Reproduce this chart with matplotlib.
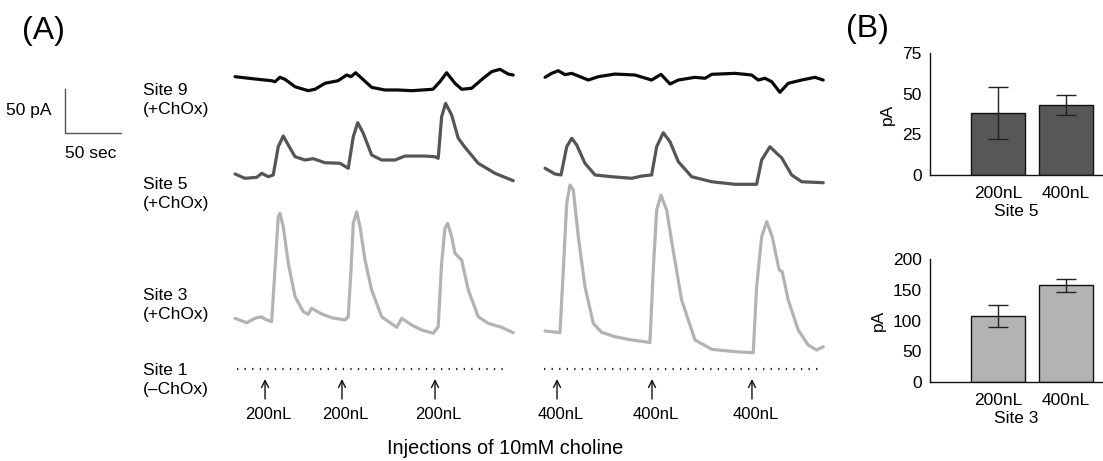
import matplotlib
matplotlib.use("Agg")
import matplotlib.pyplot as plt
import numpy as np

plt.rcParams['font.family'] = ['Liberation Sans', 'DejaVu Sans']

# ---------------- data: traces (time in s from segment start, current in pA) -------------
site9_left_t = [1.8, 19.3, 33.9, 36.8, 41.2, 45.6, 54.4, 66.0, 71.9, 80.7, 92.1, 99.7, 103.5, 107.6,
                112.9, 121.6, 133.3, 144.7, 156.7, 175.4, 181.5, 187.4, 194.7, 200.6, 209.3, 219.5,
                226.9, 234.2, 241.4, 245.8]
site9_left_i = [17.4, 14.8, 12.8, 11.7, 16.7, 14.4, 6.0, 1.5, 3.1, 9.9, 12.8, 19.3, 17.4, 21.9,
                15.6, 5.3, 2.3, 2.3, 1.5, 3.1, 11.7, 21.9, 9.9, 3.1, 4.2, 15.6,
                23.1, 25.8, 20.4, 19.3]
site9_right_t = [1.8, 7.6, 13.4, 19.3, 25.2, 31.0, 39.7, 48.5, 63.1, 80.7, 95.3, 103.5, 111.4, 118.7,
                 133.3, 142.1, 148.0, 168.4, 183.0, 188.8, 194.7, 200.6, 207.8, 215.1, 226.9, 238.5, 245.8]
site9_right_i = [16.7, 21.2, 24.2, 19.7, 21.2, 18.2, 13.6, 17.4, 20.4, 19.3, 13.6, 20.1, 9.1, 13.6,
                 16.7, 15.6, 20.1, 21.2, 19.3, 13.6, 15.6, 11.7, -0.3, 9.9, 13.6, 16.7, 13.6]

site5_left_t = [1.8, 10.5, 20.8, 25.2, 31.0, 35.3, 39.7, 44.1, 48.5, 54.4, 63.1, 70.4, 80.7, 93.8,
                101.1, 105.5, 109.4, 114.3, 121.6, 130.4, 142.1, 150.8, 168.4, 177.2, 180.0, 183.0,
                186.5, 191.8, 197.6, 203.5, 215.1, 229.8, 245.8]
site5_left_i = [12.5, 7.6, 8.7, 13.3, 9.4, 11.4, 43.6, 55.7, 45.4, 32.2, 28.4, 29.9, 25.3, 24.7,
                19.0, 54.9, 70.8, 58.7, 34.1, 28.4, 28.4, 32.9, 32.9, 32.1, 30.3, 77.6,
                92.8, 79.5, 53.1, 42.8, 24.7, 13.3, 4.9]
site5_right_t = [1.8, 10.5, 15.8, 20.8, 25.2, 29.6, 36.8, 45.6, 60.3, 77.8, 86.6, 95.3, 99.7, 105.5,
                 111.4, 118.7, 130.4, 148.0, 168.4, 187.4, 191.8, 199.1, 205.0, 209.3, 218.1, 226.9, 245.8]
site5_right_i = [19.0, 12.5, 11.4, 43.5, 53.1, 45.4, 24.7, 11.4, 9.4, 7.6, 10.2, 11.4, 43.5, 59.4,
                 49.2, 26.5, 9.4, 3.7, 0.8, 0.8, 28.4, 43.5, 36.0, 31.0, 11.4, 3.7, 2.6]

site3_left_t = [1.8, 12.0, 19.3, 24.6, 29.6, 33.9, 36.8, 39.7, 41.2, 44.1, 48.5, 54.4, 61.7, 66.0,
                69.0, 77.8, 86.6, 98.2, 101.1, 103.5, 105.5, 108.5, 111.4, 115.8, 121.6, 130.4,
                143.6, 148.0, 156.7, 165.5, 175.7, 180.0, 183.0, 185.9, 188.3, 191.8, 194.7, 200.6,
                206.4, 215.1, 223.9, 235.6, 245.8]
site3_left_i = [39.4, 34.4, 39.4, 41.2, 37.5, 35.6, 94.3, 154.8, 158.7, 143.5, 101.9, 64.0, 46.9, 44.0,
                50.8, 44.3, 40.1, 37.5, 41.2, 94.3, 147.3, 160.5, 143.5, 105.6, 71.6, 41.2,
                29.2, 39.4, 31.8, 26.1, 22.4, 29.9, 101.9, 141.7, 147.3, 132.1, 113.3, 105.6,
                71.6, 41.2, 33.7, 29.2, 23.1]
site3_right_t = [1.8, 14.9, 17.8, 20.8, 23.7, 26.6, 31.0, 36.8, 44.1, 51.5, 63.1, 77.8, 89.5, 93.8,
                 96.7, 99.7, 103.5, 108.5, 112.9, 121.6, 133.3, 148.0, 168.4, 184.4, 187.4, 191.8,
                 196.2, 201.1, 205.0, 207.2, 209.8, 215.1, 223.9, 232.6, 240.0, 245.8]
site3_right_i = [25.0, 23.1, 94.3, 170.1, 190.8, 185.2, 132.1, 75.3, 33.7, 23.5, 18.5, 14.8, 12.8, 11.7,
                 94.3, 162.4, 179.5, 162.4, 126.4, 60.2, 14.8, 4.2, 1.5, 0.3, 75.3, 132.1,
                 149.2, 132.1, 107.6, 94.3, 92.4, 60.2, 26.1, 9.1, 3.4, 7.2]

site1_left_t = [3.5, 240.0]
site1_right_t = [0.9, 243.0]
site1_i = [0.0, 0.0]

injection_left_t = [28.1, 95.6, 177.2]
injection_right_t = [12.3, 95.6, 183.3]
injection_left_labels = ["200nL", "200nL", "200nL"]
injection_right_labels = ["400nL", "400nL", "400nL"]

site_labels = ["Site 9\n(+ChOx)", "Site 5\n(+ChOx)", "Site 3\n(+ChOx)", "Site 1\n(\u2013ChOx)"]

# ---------------- data: bar charts ----------------
bar_categories = ["200nL", "400nL"]
site5_mean = [38, 43]
site5_err = [16, 6]
site3_mean = [108, 157]
site3_err = [18, 10]

# ---------------- figure ----------------
W, H = 1103, 461
fig = plt.figure(figsize=(W / 100, H / 100), dpi=100)

PX_PER_S = 1.14
PX_PER_PA = 0.88
axA = fig.add_axes([0, 0, 1, 1])
axA.set_xlim(0, W / PX_PER_S)
axA.set_ylim(0, H / PX_PER_PA)
axA.axis('off')

def t_of(px):
    return px / PX_PER_S

def i_of(py):
    return (H - py) / PX_PER_PA

left0 = t_of(233)
right0 = t_of(543)

traces = [
    (site9_left_t, site9_left_i, site9_right_t, site9_right_i, i_of(92), '#0a0a0a'),
    (site5_left_t, site5_left_i, site5_right_t, site5_right_i, i_of(185), '#555555'),
    (site3_left_t, site3_left_i, site3_right_t, site3_right_i, i_of(353), '#b3b3b3'),
]
for lt, li, rt, ri, base, col in traces:
    axA.plot(np.array(lt) + left0, np.array(li) + base, color=col, lw=2.3,
             solid_joinstyle='round', solid_capstyle='round')
    axA.plot(np.array(rt) + right0, np.array(ri) + base, color=col, lw=2.3,
             solid_joinstyle='round', solid_capstyle='round')

base1 = i_of(368.5)
for tt in (np.array(site1_left_t) + left0, np.array(site1_right_t) + right0):
    axA.plot(tt, np.array(site1_i) + base1, color='#222222', lw=1.6, linestyle=(0, (0.6, 2.8)))

# scale bar
cx, cy = t_of(64.5), i_of(133.5)
axA.plot([cx, cx, cx + 50], [cy + 50, cy, cy], color='#555555', lw=1.0)
fig.text(52 / W, 1 - 111 / H, "50 pA", ha='right', va='center', fontsize=12.5)
fig.text(65 / W, 1 - 153 / H, "50 sec", ha='left', va='center', fontsize=12.5)

# site labels
for lab, yc in zip(site_labels, [100, 194, 305, 380]):
    fig.text(143 / W, 1 - yc / H, lab, ha='left', va='center', fontsize=12.5, linespacing=1.27)

# injection arrows
arrow_top = i_of(379)
arrow_bot = i_of(399)
for times, labels, off in ((injection_left_t, injection_left_labels, left0),
                           (injection_right_t, injection_right_labels, right0)):
    for t, lab in zip(times, labels):
        x = t + off
        axA.annotate("", xy=(x, arrow_top), xytext=(x, arrow_bot),
                     arrowprops=dict(arrowstyle='->,head_length=0.5,head_width=0.25',
                                     lw=1.0, color='#111111', shrinkA=0, shrinkB=0))
        axA.text(x + 3, i_of(414), lab, ha='center', va='center', fontsize=12)

fig.text(505 / W, 1 - 448 / H, "Injections of 10mM choline", ha='center', va='center', fontsize=14.3)

fig.text(22 / W, 1 - 31 / H, "(A)", ha='left', va='center', fontsize=23)
fig.text(846 / W, 1 - 29 / H, "(B)", ha='left', va='center', fontsize=23)

# ---------------- panel B ----------------
def bar_panel(rect, means, errs, color, ymax, step, xlabel):
    ax = fig.add_axes(rect)
    x = np.arange(1, len(means) + 1)
    ax.bar(x, means, width=0.8, color=color, edgecolor='#111111', linewidth=1.0)
    ax.errorbar(x, means, yerr=errs, fmt='none', ecolor='#222222', elinewidth=1.0,
                capsize=7, capthick=1.0)
    ax.set_xlim(0, 2.55)
    ax.set_ylim(0, ymax)
    ax.set_yticks(np.arange(0, ymax + 1, step))
    ax.set_xticks(x)
    ax.set_xticklabels(bar_categories)
    ax.tick_params(length=0, labelsize=12.5, pad=6)
    ax.tick_params(axis='x', pad=8)
    for s in ('top', 'right'):
        ax.spines[s].set_visible(False)
    for s in ('left', 'bottom'):
        ax.spines[s].set_linewidth(1.0)
        ax.spines[s].set_color('#111111')
    ax.set_ylabel("pA", fontsize=12.5, labelpad=5)
    ax.set_xlabel(xlabel, fontsize=12.5, labelpad=2)
    ax.patch.set_alpha(0)
    return ax

bar_panel([930 / W, 1 - 175 / H, 173 / W, 122 / H], site5_mean, site5_err, '#575757', 75, 25, "Site 5")
bar_panel([930 / W, 1 - 382 / H, 173 / W, 123 / H], site3_mean, site3_err, '#b3b3b3', 200, 50, "Site 3")

fig.savefig("out.png", dpi=100)
